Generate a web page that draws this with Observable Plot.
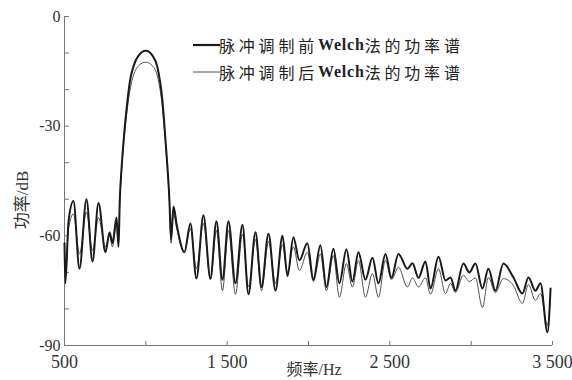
<!DOCTYPE html>
<html><head><meta charset="utf-8">
<script src="https://cdn.jsdelivr.net/npm/d3@7"></script>
<script src="https://cdn.jsdelivr.net/npm/@observablehq/plot@0.6"></script>
<style>
body{margin:0;background:#fff;}
#wrap{position:relative;width:572px;height:380px;overflow:hidden;background:#fff;}
.leg{position:absolute;left:193px;height:20px;font-family:"Noto Sans CJK SC",sans-serif;font-size:16px;letter-spacing:3.8px;color:#222;display:flex;align-items:center;white-space:nowrap;}
.leg span{font-family:"Liberation Serif","Noto Sans CJK SC",serif;letter-spacing:0.8px;}
.title{position:absolute;font-family:"Liberation Serif","Noto Sans CJK SC",serif;color:#333;white-space:nowrap;line-height:1;}
</style></head><body><div id="wrap"></div>
<script>
const freq   = [500,505,525,555,592,635,672,709,752,777,795,820,832,840,850,865,887,905,925,955,1000,1041,1072,1102,1121,1145,1155,1170,1190,1237,1274,1311,1354,1397,1434,1471,1508,1551,1594,1631,1674,1711,1754,1797,1840,1871,1907,1944,1993,2030,2073,2110,2153,2190,2233,2270,2307,2350,2393,2430,2473,2510,2553,2608,2639,2676,2719,2750,2799,2842,2873,2903,2952,2989,3026,3069,3106,3149,3198,3260,3315,3352,3395,3426,3469,3488];
const before = [-62,-73,-56,-50.5,-69,-50,-67,-51,-64.5,-59,-62,-55,-63,-50,-42,-33,-23,-17,-13.5,-10.7,-9.4,-10.7,-14,-23,-33.9,-50.3,-61,-52,-57,-64.5,-56.6,-71.7,-54.4,-71.7,-56,-72,-56,-73,-57,-76,-59,-74,-59.4,-75,-60,-71,-60.4,-66.7,-62,-72,-62.6,-74,-63.5,-73,-63.7,-72.5,-64.5,-72,-66,-73,-65,-71.5,-65,-69,-67.5,-71.5,-67,-74.4,-65.7,-72.2,-71.4,-75,-67.6,-70,-67.6,-74.4,-69,-75,-67.6,-71.4,-75.8,-71.4,-75,-73,-86.4,-74.4];
const after  = [-63,-71,-58,-54,-65,-53.5,-64,-55,-63,-60,-63,-57,-62,-51,-43,-34.5,-25,-19.5,-16,-13.5,-12.5,-13.5,-16.5,-25,-35,-51,-62,-54,-58,-64.5,-58,-69,-56.6,-72,-58.5,-75,-58.5,-76,-59.5,-74,-61,-75,-61.5,-73,-62.5,-70,-63,-69.5,-64.5,-72.5,-65,-75,-65.4,-76.8,-67.6,-74,-66.7,-76.8,-70.3,-76.8,-66.7,-72,-68.6,-74,-71.5,-74,-71.5,-76,-69,-75.8,-73,-75.5,-70.8,-72.5,-71.5,-79.6,-71.4,-75.5,-71.7,-73.6,-78.5,-73.3,-77.7,-75.8,-84.5,-76];
const xTickValues  = [500,1000,1500,2000,2500,3000,3500];
const xLabelValues = [500,1500,2500,3500];
const yTickValues  = [0,-10,-20,-30,-40,-50,-60,-70,-80,-90];
const yLabelValues = [0,-30,-60,-90];
const seriesNames  = ["脉冲调制前Welch法的功率谱","脉冲调制后Welch法的功率谱"];
const xTitle = "频率/Hz";
const yTitle = "功率/dB";

const rows = freq.map((f,i)=>({f, before: before[i], after: after[i]}));
const fmtX = d => d < 1000 ? String(d) : String(d).replace(/(\d)(\d{3})$/, "$1 $2");

const chart = Plot.plot({
  width:572, height:380,
  marginLeft:64, marginRight:20, marginTop:16, marginBottom:35,
  x:{domain:[500,3500]},
  y:{domain:[-90,0]},
  style:{fontFamily:'"Liberation Serif", serif', fontSize:"16px", color:"#333", background:"white", overflow:"visible"},
  marks:[
    Plot.axisX({ticks:xTickValues, tickSize:-4, tickFormat:()=>"", label:null, stroke:"#777"}),
    Plot.axisX({ticks:xLabelValues, tickSize:0, tickPadding:10, tickFormat:fmtX, label:null, fontSize:18, fill:"#333"}),
    Plot.axisY({ticks:yTickValues, tickSize:-5, tickFormat:()=>"", label:null, stroke:"#777"}),
    Plot.axisY({ticks:yLabelValues, tickSize:0, tickPadding:4, tickFormat:d=>String(d), label:null, fill:"#333"}),
    Plot.ruleY([-90],{stroke:"#777"}),
    Plot.ruleX([500],{stroke:"#777"}),
    Plot.line(rows,{x:"f", y:"after", stroke:"#505050", strokeWidth:1, curve:"monotone-x"}),
    Plot.line(rows,{x:"f", y:"before", stroke:"#1a1a1a", strokeWidth:2, curve:"monotone-x"})
  ]
});
const wrap = document.getElementById("wrap");
wrap.appendChild(chart);

// legend
[[seriesNames[0], 2.2, "#1a1a1a", 35], [seriesNames[1], 1, "#505050", 62]].forEach(([name, w, c, top]) => {
  const d = document.createElement("div");
  d.className = "leg";
  d.style.top = top + "px";
  const m = name.match(/^(.*?)(Welch)(.*)$/);
  d.innerHTML = `<svg width="29" height="20" style="margin-right:-3px"><line x1="0" x2="27" y1="10" y2="10" stroke="${c}" stroke-width="${w}"/></svg>` +
    `${m[1]}<span style="font-weight:bold">${m[2]}</span>${m[3]}`;
  wrap.appendChild(d);
});
// axis titles
const xt = document.createElement("div");
xt.className = "title"; xt.textContent = xTitle;
xt.style.fontSize = "16px"; xt.style.left = "314px"; xt.style.top = "362px"; xt.style.transform = "translateX(-50%)";
wrap.appendChild(xt);
const yt = document.createElement("div");
yt.className = "title"; yt.textContent = yTitle;
yt.style.fontSize = "17px"; yt.style.left = "22px"; yt.style.top = "200px"; yt.style.transform = "translate(-50%,-50%) rotate(-90deg)";
wrap.appendChild(yt);
</script></body></html>
